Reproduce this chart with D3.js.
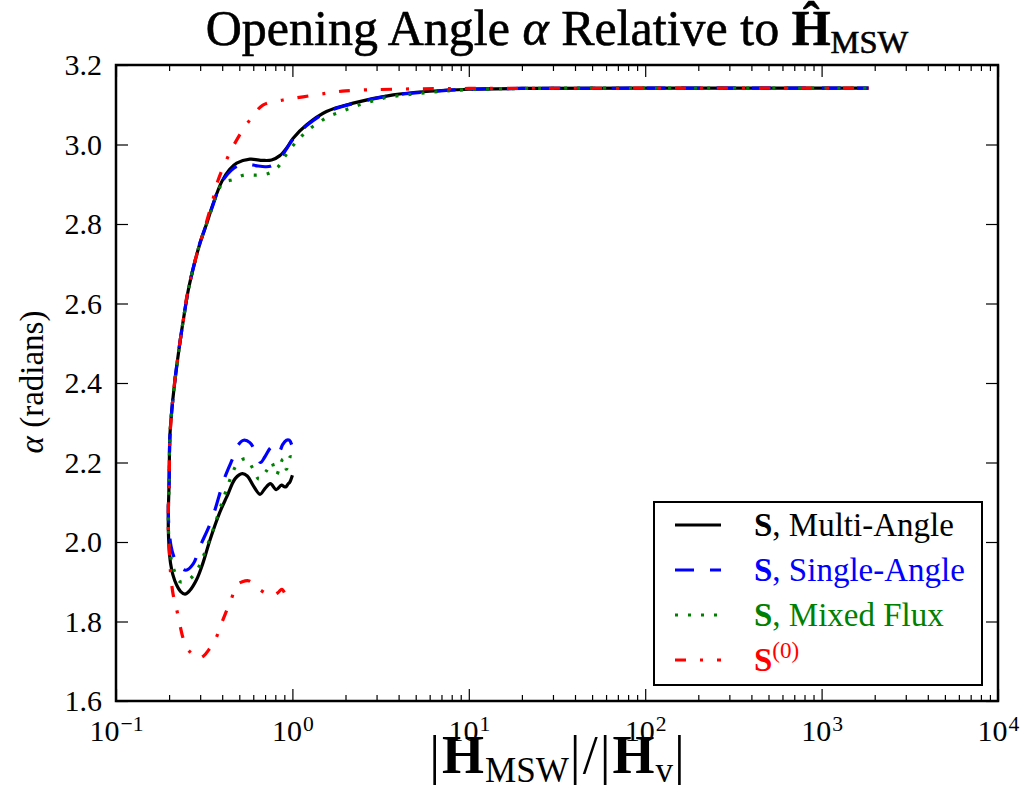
<!DOCTYPE html>
<html>
<head>
<meta charset="utf-8">
<script src="https://cdn.jsdelivr.net/npm/d3@7"></script>
<style>
  body { margin: 0; background: #fff; }
  svg { display: block; }
  text { font-family: "Liberation Serif", "DejaVu Serif Condensed", "DejaVu Serif", serif; fill: #000; }
</style>
</head>
<body>
<svg id="chart" width="1024" height="804"></svg>
<script>
const FONT = "'Liberation Serif', 'DejaVu Serif Condensed', 'DejaVu Serif', serif";

// Tick values and labels
const xMajorTicks = [0.1, 1, 10, 100, 1000, 10000];
const xTickExponents = ["\u22121", "0", "1", "2", "3", "4"];
const yTicks = [1.6, 1.8, 2.0, 2.2, 2.4, 2.6, 2.8, 3.0, 3.2];
const yTickLabels = ["1.6", "1.8", "2.0", "2.2", "2.4", "2.6", "2.8", "3.0", "3.2"];

// Each series is traced along the trajectory: [|H_MSW|/|H_v|, alpha]
const multiAngle = [
  [1.00, 2.168], [0.965, 2.150], [0.945, 2.146], [0.92, 2.139], [0.90, 2.139], [0.867, 2.143],
  [0.81, 2.132], [0.75, 2.147], [0.70, 2.135], [0.655, 2.120], [0.60, 2.142], [0.555, 2.166],
  [0.52, 2.172], [0.475, 2.160], [0.425, 2.114], [0.388, 2.075], [0.341, 2.005], [0.310, 1.945],
  [0.286, 1.905], [0.262, 1.878], [0.246, 1.869], [0.232, 1.876], [0.220, 1.893], [0.210, 1.918],
  [0.204, 1.945], [0.200, 1.985], [0.198, 2.030], [0.198, 2.075], [0.200, 2.150], [0.202, 2.265],
  [0.208, 2.340], [0.216, 2.407], [0.230, 2.500], [0.245, 2.580], [0.257, 2.634], [0.278, 2.700],
  [0.299, 2.751], [0.326, 2.800], [0.356, 2.852], [0.397, 2.906], [0.44, 2.937], [0.483, 2.953],
  [0.574, 2.963], [0.68, 2.960], [0.762, 2.961], [0.849, 2.972], [0.93, 2.992], [1.01, 3.016],
  [1.20, 3.049], [1.56, 3.083], [2.21, 3.104], [3.73, 3.125], [6.0, 3.134], [10, 3.139],
  [20, 3.141], [100, 3.1416], [1845, 3.1416]
];

const singleAngle = [
  [0.99, 2.245], [0.96, 2.256], [0.925, 2.256], [0.88, 2.245], [0.85, 2.230], [0.80, 2.222],
  [0.76, 2.238], [0.70, 2.215], [0.66, 2.200], [0.62, 2.225], [0.574, 2.250], [0.53, 2.256],
  [0.493, 2.244], [0.463, 2.214], [0.415, 2.164], [0.348, 2.055], [0.299, 1.988], [0.274, 1.945],
  [0.249, 1.929], [0.225, 1.942], [0.212, 1.965], [0.205, 1.990], [0.200, 2.030], [0.198, 2.080],
  [0.200, 2.150], [0.202, 2.260], [0.208, 2.340], [0.216, 2.410], [0.230, 2.500], [0.245, 2.580],
  [0.257, 2.635], [0.278, 2.700], [0.299, 2.752], [0.326, 2.800], [0.356, 2.850], [0.385, 2.893],
  [0.405, 2.911], [0.45, 2.935], [0.50, 2.948], [0.56, 2.950], [0.62, 2.947], [0.70, 2.944],
  [0.76, 2.946], [0.85, 2.965], [0.93, 2.990], [1.01, 3.014], [1.20, 3.047], [1.56, 3.081],
  [2.21, 3.103], [3.73, 3.124], [6.0, 3.133], [10, 3.139], [20, 3.141], [100, 3.1416], [1845, 3.1416]
];

const mixedFlux = [
  [0.99, 2.215], [0.97, 2.214], [0.925, 2.183], [0.885, 2.209], [0.849, 2.190], [0.812, 2.169],
  [0.762, 2.200], [0.715, 2.180], [0.647, 2.158], [0.598, 2.184], [0.544, 2.210], [0.483, 2.194],
  [0.451, 2.166], [0.405, 2.108], [0.367, 2.050], [0.348, 2.020], [0.312, 1.963], [0.292, 1.934],
  [0.262, 1.907], [0.231, 1.900], [0.216, 1.923], [0.207, 1.950], [0.200, 2.000], [0.198, 2.070],
  [0.200, 2.150], [0.202, 2.265], [0.208, 2.340], [0.216, 2.407], [0.230, 2.500], [0.245, 2.580],
  [0.257, 2.634], [0.278, 2.700], [0.299, 2.751], [0.326, 2.800], [0.356, 2.850], [0.38, 2.885],
  [0.41, 2.905], [0.462, 2.912], [0.53, 2.923], [0.626, 2.923], [0.73, 2.927], [0.83, 2.944],
  [0.90, 2.968], [1.00, 2.995], [1.11, 3.018], [1.25, 3.039], [1.43, 3.057], [1.63, 3.072],
  [1.90, 3.083], [2.20, 3.094], [2.58, 3.104], [3.00, 3.112], [3.50, 3.119], [6.0, 3.131],
  [10, 3.138], [20, 3.141], [100, 3.1416], [1845, 3.1416]
];

const zerothOrder = [
  [0.90, 1.873], [0.87, 1.881], [0.83, 1.873], [0.77, 1.866], [0.707, 1.871], [0.62, 1.888],
  [0.57, 1.902], [0.52, 1.900], [0.487, 1.892], [0.445, 1.850], [0.425, 1.829], [0.393, 1.791],
  [0.365, 1.753], [0.340, 1.732], [0.315, 1.714], [0.290, 1.707], [0.268, 1.720], [0.253, 1.732],
  [0.240, 1.758], [0.228, 1.801], [0.218, 1.842], [0.211, 1.867], [0.205, 1.910], [0.201, 1.967],
  [0.198, 2.030], [0.198, 2.080], [0.200, 2.150], [0.202, 2.260], [0.208, 2.340], [0.216, 2.410],
  [0.230, 2.500], [0.245, 2.580], [0.251, 2.613], [0.278, 2.700], [0.299, 2.750], [0.326, 2.805],
  [0.356, 2.865], [0.379, 2.910], [0.43, 2.968], [0.493, 3.018], [0.574, 3.062], [0.68, 3.099],
  [0.885, 3.112], [1.15, 3.120], [1.56, 3.129], [2.0, 3.135], [3.73, 3.139], [10, 3.141],
  [100, 3.1416], [1845, 3.1416]
];

const seriesNames = ["S, Multi-Angle", "S, Single-Angle", "S, Mixed Flux", "S(0)"];
const seriesColors = ["#000000", "#0000ff", "#008000", "#ff0000"];

const W = 1024, H = 804;
const plot = { left: 116, right: 998, top: 65, bottom: 701 };

const svg = d3.select("#chart");
svg.append("rect").attr("width", W).attr("height", H).attr("fill", "#fff");

const x = d3.scaleLog().domain([0.1, 1e4]).range([plot.left, plot.right]);
const y = d3.scaleLinear().domain([1.6, 3.2]).range([plot.bottom, plot.top]);

svg.append("clipPath").attr("id", "plot-clip")
  .append("rect")
  .attr("x", plot.left).attr("y", plot.top)
  .attr("width", plot.right - plot.left).attr("height", plot.bottom - plot.top);

const line = d3.line()
  .x(d => x(d[0]))
  .y(d => y(d[1]))
  .curve(d3.curveCatmullRom.alpha(0.5));

const series = [
  { data: multiAngle, color: seriesColors[0], dash: null },
  { data: singleAngle, color: seriesColors[1], dash: "19,16" },
  { data: mixedFlux, color: seriesColors[2], dash: "3,10" },
  { data: zerothOrder, color: seriesColors[3], dash: "11,14,3,14" }
];

const linesG = svg.append("g").attr("clip-path", "url(#plot-clip)");
series.forEach(s => {
  linesG.append("path")
    .datum(s.data)
    .attr("d", line)
    .attr("fill", "none")
    .attr("stroke", s.color)
    .attr("stroke-width", 3.2)
    .attr("stroke-linejoin", "round")
    .attr("stroke-dasharray", s.dash);
});

// Axes: ticks point inward on all four sides
const xMinorTicks = x.ticks().filter(v => !xMajorTicks.some(m => Math.abs(m - v) / m < 1e-9));

function styleAxis(g) {
  g.attr("font-family", FONT);
  g.select(".domain").remove();
  g.selectAll(".tick line").attr("stroke", "#000").attr("stroke-width", 1.2);
}

const bottomAxis = svg.append("g")
  .attr("transform", `translate(0,${plot.bottom})`)
  .call(d3.axisBottom(x).tickValues(xMajorTicks).tickSize(-12).tickFormat(() => "10"))
  .call(styleAxis);
bottomAxis.selectAll(".tick text")
  .attr("y", 40).attr("dy", null)
  .attr("font-size", 30)
  .each(function (d, i) {
    const t = d3.select(this);
    t.text(null);
    t.append("tspan").text("10");
    t.append("tspan").attr("dx", 1).attr("dy", "-0.47em").attr("font-size", "0.72em")
      .text(xTickExponents[i]);
  });

svg.append("g")
  .attr("transform", `translate(0,${plot.bottom})`)
  .call(d3.axisBottom(x).tickValues(xMinorTicks).tickSize(-6).tickFormat(""))
  .call(styleAxis);

svg.append("g")
  .attr("transform", `translate(0,${plot.top})`)
  .call(d3.axisTop(x).tickValues(xMajorTicks).tickSize(-12).tickFormat(""))
  .call(styleAxis);
svg.append("g")
  .attr("transform", `translate(0,${plot.top})`)
  .call(d3.axisTop(x).tickValues(xMinorTicks).tickSize(-6).tickFormat(""))
  .call(styleAxis);

svg.append("g")
  .attr("transform", `translate(${plot.left},0)`)
  .call(d3.axisLeft(y).tickValues(yTicks).tickSize(-12).tickPadding(14)
    .tickFormat((d, i) => yTickLabels[i]))
  .call(styleAxis)
  .selectAll(".tick text")
  .attr("font-size", 30);

svg.append("g")
  .attr("transform", `translate(${plot.right},0)`)
  .call(d3.axisRight(y).tickValues(yTicks).tickSize(-12).tickFormat(""))
  .call(styleAxis);

// Plot frame
svg.append("rect")
  .attr("x", plot.left).attr("y", plot.top)
  .attr("width", plot.right - plot.left).attr("height", plot.bottom - plot.top)
  .attr("fill", "none").attr("stroke", "#000").attr("stroke-width", 2.5);

// Title
const title = svg.append("text")
  .attr("x", (plot.left + plot.right) / 2).attr("y", 45)
  .attr("text-anchor", "middle").attr("font-size", 50)
  .attr("stroke", "#000").attr("stroke-width", 0.6);
title.append("tspan").text("Opening Angle ");
title.append("tspan").attr("font-style", "italic").text("\u03b1");
title.append("tspan").text(" Relative to ");
title.append("tspan").attr("font-weight", "bold").text("\u0124");
title.append("tspan").attr("font-size", "0.65em").attr("dy", "0.25em").text("MSW");

// Axis labels
const xLabel = svg.append("text")
  .attr("x", (plot.left + plot.right) / 2).attr("y", 773)
  .attr("text-anchor", "middle").attr("font-size", 54);
xLabel.append("tspan").text("|");
xLabel.append("tspan").attr("dx", 2).attr("font-weight", "bold").text("H");
xLabel.append("tspan").attr("dx", 1).attr("font-size", "0.65em").attr("dy", "0.25em").text("MSW");
xLabel.append("tspan").attr("dx", 1).attr("dy", "-0.1625em").text("|");
xLabel.append("tspan").attr("dx", 2).text("/");
xLabel.append("tspan").attr("dx", 2).text("|");
xLabel.append("tspan").attr("dx", 2).attr("font-weight", "bold").text("H");
xLabel.append("tspan").attr("dx", 1).attr("font-size", "0.65em").attr("dy", "0.25em").text("v");
xLabel.append("tspan").attr("dx", 1).attr("dy", "-0.1625em").text("|");

const yLabel = svg.append("text")
  .attr("transform", `translate(43,382) rotate(-90)`)
  .attr("text-anchor", "middle").attr("font-size", 33);
yLabel.append("tspan").attr("font-style", "italic").text("\u03b1");
yLabel.append("tspan").text(" (radians)");

// Legend
const legend = { left: 654, top: 502, right: 982, bottom: 685 };
const legendRows = [525, 570, 615, 660];
const lg = svg.append("g");
lg.append("rect")
  .attr("x", legend.left).attr("y", legend.top)
  .attr("width", legend.right - legend.left).attr("height", legend.bottom - legend.top)
  .attr("fill", "#fff").attr("stroke", "#000").attr("stroke-width", 2);

series.forEach((s, i) => {
  const ry = legendRows[i];
  lg.append("line")
    .attr("x1", 675).attr("x2", 721).attr("y1", ry).attr("y2", ry)
    .attr("stroke", s.color).attr("stroke-width", 3.2)
    .attr("stroke-dasharray", s.dash);
  const t = lg.append("text")
    .attr("x", 754).attr("y", ry + 11)
    .attr("font-size", 33)
    .style("fill", s.color);
  t.append("tspan").attr("font-weight", "bold").text("S");
  if (i === 3) {
    t.append("tspan").attr("font-size", "0.7em").attr("dy", "-0.55em").text("(0)");
  } else {
    t.append("tspan").text(seriesNames[i].slice(1));
  }
});
</script>
</body>
</html>
